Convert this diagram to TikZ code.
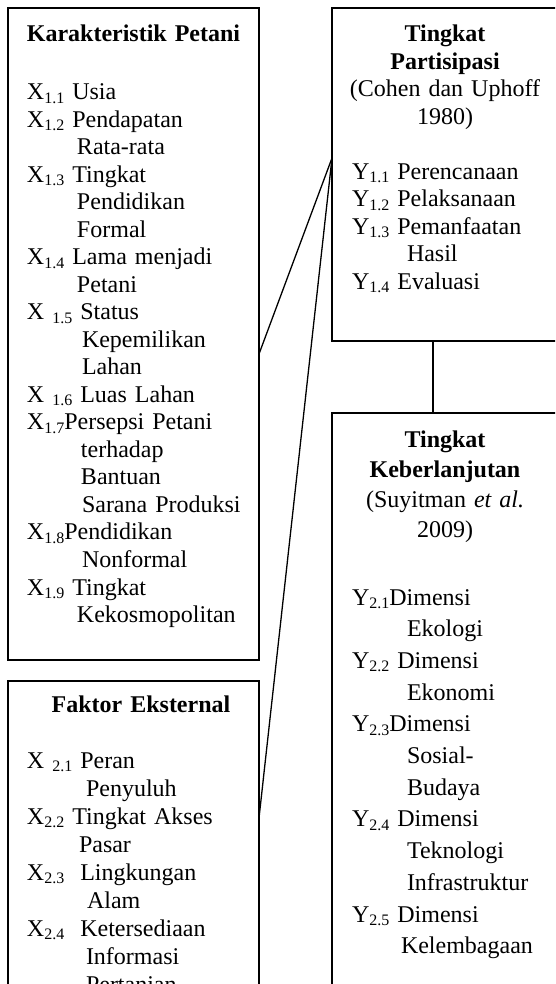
\documentclass[tikz,border=0pt]{standalone}
\usepackage{fontspec}
\setmainfont{Liberation Serif}
\usepackage{tikz}
\usetikzlibrary{positioning}
\newcommand{\sbs}[1]{\raisebox{-3.5pt}{\fontsize{16}{16}\selectfont #1}}
\newcommand{\firstline}{\rule{0pt}{18pt}}
\newcommand{\cont}[1]{\hspace*{#1}}
\tikzset{
  framebox/.style={
    rectangle, draw=black, line width=1.3pt,
    inner sep=0pt, outer sep=0pt, anchor=north west
  },
  heading/.style={
    inner sep=0pt, outer sep=0pt,
    text width=240pt, align=center
  },
  itemlist/.style={
    inner sep=0pt, outer sep=0pt,
    text width=225pt, align=left
  },
  link/.style={line width=1.3pt},
}

\begin{document}
\begin{tikzpicture}[font=\fontsize{24}{27.5}\selectfont]

  \useasboundingbox (0,0) rectangle (555pt,-984pt);
  \clip (0,0) rectangle (555pt,-984pt);

  % Frames
  \node[framebox, minimum width=251pt, minimum height=652pt] (karakter) at (8pt,-8pt) {};
  \node[framebox, minimum width=251pt, minimum height=340pt, below=21pt of karakter] (eksternal) {};
  \node[framebox, minimum width=226pt, minimum height=333pt,
        right=73pt of karakter.north east, anchor=north west] (partisipasi) {};
  \node[framebox, minimum width=226pt, minimum height=600pt, below=72pt of partisipasi] (keberlanjutan) {};

  % Headings
  \node[heading, below=16pt of karakter.north] (karakterhead)
        {\firstline\textbf{Karakteristik Petani}};
  \node[heading, below=13pt of eksternal.north, xshift=7.5pt] (eksternalhead)
        {\firstline\textbf{Faktor Eksternal}};
  \node[heading, below=16pt of partisipasi.north] (partisipasihead)
        {\firstline\textbf{Tingkat}\\ \textbf{Partisipasi}\\ (Cohen dan Uphoff\\ 1980)};
  \node[heading, below=16pt of keberlanjutan.north, font=\fontsize{24}{30}\selectfont] (keberlanjutanhead)
        {\firstline\textbf{Tingkat}\\ \textbf{Keberlanjutan}\\ (Suyitman \textit{et al.}\\ 2009)};

  % Item lists
  \node[itemlist, below right=74pt and 19pt of karakter.north west] (karakterlist)
        {\firstline X\sbs{1.1} Usia\\
         X\sbs{1.2} Pendapatan\\
         \cont{50pt}Rata-rata\\
         X\sbs{1.3} Tingkat\\
         \cont{50pt}Pendidikan\\
         \cont{50pt}Formal\\
         X\sbs{1.4} Lama menjadi\\
         \cont{50pt}Petani\\
         X \sbs{1.5} Status\\
         \cont{55pt}Kepemilikan\\
         \cont{55pt}Lahan\\
         X \sbs{1.6} Luas Lahan\\
         X\sbs{1.7}Persepsi Petani\\
         \cont{54pt}terhadap\\
         \cont{54pt}Bantuan\\
         \cont{55pt}Sarana Produksi\\
         X\sbs{1.8}Pendidikan\\
         \cont{55pt}Nonformal\\
         X\sbs{1.9} Tingkat\\
         \cont{50pt}Kekosmopolitan};
  \node[itemlist, font=\fontsize{24}{28}\selectfont,
        below right=69pt and 19pt of eksternal.north west] (eksternallist)
        {\firstline X \sbs{2.1} Peran\\
         \cont{59pt}Penyuluh\\
         X\sbs{2.2} Tingkat Akses\\
         \cont{52pt}Pasar\\
         X\sbs{2.3}\ \ Lingkungan\\
         \cont{60pt}Alam\\
         X\sbs{2.4}\ \ Ketersediaan\\
         \cont{59pt}Informasi\\
         \cont{59pt}Pertanian};
  \node[itemlist, text width=200pt, below right=153.5pt and 20pt of partisipasi.north west] (partisipasilist)
        {\firstline Y\sbs{1.1} Perencanaan\\
         Y\sbs{1.2} Pelaksanaan\\
         Y\sbs{1.3} Pemanfaatan\\
         \cont{55pt}Hasil\\
         Y\sbs{1.4} Evaluasi};
  \node[itemlist, text width=200pt, font=\fontsize{24}{31.7}\selectfont,
        below right=174pt and 20pt of keberlanjutan.north west] (keberlanjutanlist)
        {\firstline Y\sbs{2.1}Dimensi\\
         \cont{55pt}Ekologi\\
         Y\sbs{2.2} Dimensi\\
         \cont{55pt}Ekonomi\\
         Y\sbs{2.3}Dimensi\\
         \cont{55pt}Sosial-\\
         \cont{55pt}Budaya\\
         Y\sbs{2.4} Dimensi\\
         \cont{55pt}Teknologi\\
         \cont{55pt}Infrastruktur\\
         Y\sbs{2.5} Dimensi\\
         \cont{49pt}Kelembagaan};

  % Connectors
  \draw[link] ([yshift=-20pt]karakter.east) -- ([yshift=16.5pt]partisipasi.west);
  \draw[link] ([yshift=-137pt]eksternal.north east) -- ([yshift=16.5pt]partisipasi.west);
  \draw[link] ([xshift=-12pt]partisipasi.south) -- ([xshift=-12pt]keberlanjutan.north);

\end{tikzpicture}
\end{document}
